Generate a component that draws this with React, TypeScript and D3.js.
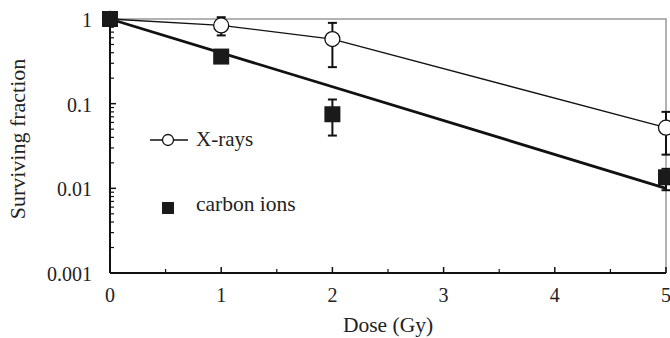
import { useEffect, useRef } from 'react'
import * as d3 from 'd3'

// dose points (Gy)
const doses = [0, 1, 2, 5]

// X-rays: surviving fraction with error bars
const xraySF = [1, 0.84, 0.58, 0.052]
const xrayLo = [1, 0.64, 0.27, 0.025]
const xrayHi = [1, 1.05, 0.9, 0.08]

// carbon ions
const carbonSF = [1, 0.36, 0.075, 0.0135]
const carbonLo = [1, 0.36, 0.042, 0.0095]
const carbonHi = [1, 0.36, 0.112, 0.017]

// exponential fit for carbon ions
const fitDose = [0, 5]
const fitSF = [1, 0.01]

const xTicks = [0, 1, 2, 3, 4, 5]
const yTicks = [1, 0.1, 0.01, 0.001]
const yTickLabels = ['1', '0.1', '0.01', '0.001']

const App = () => {
  const ref = useRef<SVGSVGElement>(null)

  useEffect(() => {
    if (!ref.current) return
    const svg = d3.select(ref.current)
    svg.selectAll('*').remove()

    const W = 670
    const H = 338
    const left = 110, right = 666, top = 19, bottom = 273
    const font = 'Liberation Serif, Times New Roman, serif'

    const x = d3.scaleLinear().domain([0, 5]).range([left, right])
    const y = d3.scaleLog().domain([0.001, 1]).range([bottom, top])

    svg.attr('width', W).attr('height', H).attr('font-family', font).attr('fill', '#222')

    // frame: grey top & right
    svg.append('path')
      .attr('d', `M${left},${top}H${right}V${bottom}`)
      .attr('fill', 'none').attr('stroke', '#999').attr('stroke-width', 1.5)

    // axes
    svg.append('line').attr('x1', left).attr('x2', left).attr('y1', top).attr('y2', bottom)
      .attr('stroke', '#111').attr('stroke-width', 2)
    svg.append('line').attr('x1', left).attr('x2', right).attr('y1', bottom).attr('y2', bottom)
      .attr('stroke', '#111').attr('stroke-width', 2)

    // y ticks (inside)
    const minor: number[] = []
    for (let e = -3; e < 0; e++) for (let m = 2; m <= 9; m++) minor.push(m * Math.pow(10, e))
    svg.append('g').selectAll('line').data(minor).enter().append('line')
      .attr('x1', left).attr('x2', left + 4)
      .attr('y1', d => y(d)).attr('y2', d => y(d))
      .attr('stroke', '#111').attr('stroke-width', 1.2)
    svg.append('g').selectAll('line').data(yTicks).enter().append('line')
      .attr('x1', left).attr('x2', left + 6)
      .attr('y1', d => y(d)).attr('y2', d => y(d))
      .attr('stroke', '#111').attr('stroke-width', 1.5)
    svg.append('g').selectAll('text').data(yTicks).enter().append('text')
      .attr('x', left - 18).attr('y', d => y(d) + 8)
      .attr('text-anchor', 'end')
      .attr('font-size', 20)
      .text((d, i) => yTickLabels[i])

    // x ticks (inside)
    const halfTicks = d3.range(0.5, 5, 1)
    svg.append('g').selectAll('line').data(halfTicks).enter().append('line')
      .attr('x1', d => x(d)).attr('x2', d => x(d))
      .attr('y1', bottom).attr('y2', bottom - 4)
      .attr('stroke', '#111').attr('stroke-width', 1.2)
    svg.append('g').selectAll('line').data(xTicks).enter().append('line')
      .attr('x1', d => x(d)).attr('x2', d => x(d))
      .attr('y1', bottom).attr('y2', bottom - 6)
      .attr('stroke', '#111').attr('stroke-width', 1.5)
    svg.append('g').selectAll('text').data(xTicks).enter().append('text')
      .attr('x', d => x(d)).attr('y', bottom + 29)
      .attr('text-anchor', 'middle')
      .attr('font-size', 20)
      .text(d => String(d))

    // axis titles
    svg.append('text')
      .attr('transform', `translate(25,139) rotate(-90)`)
      .attr('text-anchor', 'middle')
      .attr('font-size', 22)
      .text('Surviving fraction')
    svg.append('text')
      .attr('x', 388).attr('y', 332)
      .attr('text-anchor', 'middle')
      .attr('font-size', 21.5)
      .text('Dose (Gy)')

    const line = d3.line<[number, number]>().x(d => x(d[0])).y(d => y(d[1]))

    // X-ray connecting line
    svg.append('path')
      .attr('d', line(doses.map((d, i) => [d, xraySF[i]] as [number, number])))
      .attr('fill', 'none').attr('stroke', '#111').attr('stroke-width', 1.3)

    // carbon fit line
    svg.append('path')
      .attr('d', line(fitDose.map((d, i) => [d, fitSF[i]] as [number, number])))
      .attr('fill', 'none').attr('stroke', '#111').attr('stroke-width', 2.8)

    // error bars
    const errBar = (lo: number[], hi: number[]) => {
      doses.forEach((d, i) => {
        if (lo[i] === hi[i]) return
        const cx = x(d)
        svg.append('line').attr('x1', cx).attr('x2', cx).attr('y1', y(lo[i])).attr('y2', y(hi[i]))
          .attr('stroke', '#111').attr('stroke-width', 2)
        ;[lo[i], hi[i]].forEach(v => {
          svg.append('line').attr('x1', cx - 4.5).attr('x2', cx + 4.5).attr('y1', y(v)).attr('y2', y(v))
            .attr('stroke', '#111').attr('stroke-width', 2)
        })
      })
    }
    errBar(xrayLo, xrayHi)
    errBar(carbonLo, carbonHi)

    // X-ray circles
    svg.append('g').selectAll('circle').data(doses).enter().append('circle')
      .attr('cx', d => x(d)).attr('cy', (d, i) => y(xraySF[i])).attr('r', 7.5)
      .attr('fill', 'white').attr('stroke', '#111').attr('stroke-width', 1.3)

    // carbon squares
    const s = 16
    svg.append('g').selectAll('rect').data(doses).enter().append('rect')
      .attr('x', d => x(d) - s / 2).attr('y', (d, i) => y(carbonSF[i]) - s / 2)
      .attr('width', s).attr('height', s).attr('fill', '#1a1a1a')

    // legend
    svg.append('line').attr('x1', 150).attr('x2', 188).attr('y1', 140).attr('y2', 140)
      .attr('stroke', '#111').attr('stroke-width', 1.3)
    svg.append('circle').attr('cx', 168).attr('cy', 140).attr('r', 5.5)
      .attr('fill', 'white').attr('stroke', '#111').attr('stroke-width', 1.3)
    svg.append('text').attr('x', 196).attr('y', 146)
      .attr('font-size', 21)
      .text('X-rays')
    svg.append('rect').attr('x', 162).attr('y', 202).attr('width', 12).attr('height', 12)
      .attr('fill', '#1a1a1a')
    svg.append('text').attr('x', 196).attr('y', 211)
      .attr('font-size', 21.5)
      .text('carbon ions')
  }, [])

  return (
    <div style={{ position: 'absolute', left: 0, top: 0, background: 'white' }}>
      <svg ref={ref} style={{ display: 'block' }} />
    </div>
  )
}

export default App
